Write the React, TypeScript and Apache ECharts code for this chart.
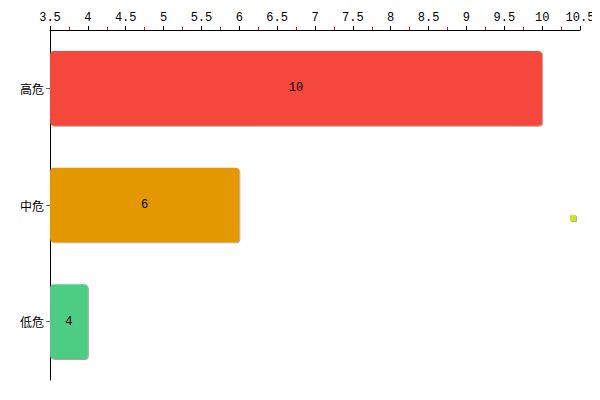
import React, { useEffect, useRef } from "react";
import * as echarts from "echarts";

const categories = ["高危", "中危", "低危"];
const values = [10, 6, 4];
const barColors = ["#F5473B", "#E39800", "#4ECD83"];
const axisMin = 3.5;
const axisMax = 10.5;
const axisInterval = 0.5;

export default function App() {
  const ref = useRef<HTMLDivElement>(null);
  useEffect(() => {
    if (!ref.current) return;
    const chart = echarts.init(ref.current, undefined, { renderer: "svg" });
    chart.setOption({
      animation: false,
      textStyle: { fontFamily: "'Liberation Mono', 'Noto Sans CJK SC', monospace" },
      grid: { left: 50, right: 20, top: 30, bottom: 20, containLabel: false },
      xAxis: {
        type: "value",
        position: "top",
        min: axisMin,
        max: axisMax,
        interval: axisInterval,
        splitLine: { show: false },
        axisLine: { show: true, lineStyle: { color: "#000", width: 1 } },
        axisTick: { show: true, length: 4, lineStyle: { color: "#000" } },
        minorTick: { show: true, splitNumber: 2, length: 3, lineStyle: { color: "#ff0000" } },
        axisLabel: { color: "#000", fontSize: 12, margin: 6, fontFamily: "'Liberation Mono', monospace" },
      },
      yAxis: {
        type: "category",
        data: categories,
        inverse: true,
        axisLine: { show: true, lineStyle: { color: "#000", width: 1 } },
        axisTick: { show: true, alignWithLabel: true, length: 4, lineStyle: { color: "#666" } },
        axisLabel: { color: "#000", fontSize: 12, margin: 6, fontFamily: "'Noto Sans CJK SC', sans-serif" },
        splitLine: { show: false },
      },
      series: [
        {
          type: "bar",
          barWidth: "64%",
          data: values.map((v, i) => ({
            value: v,
            itemStyle: {
              color: barColors[i],
              borderRadius: 4,
              shadowColor: "rgba(0,0,0,0.35)",
              shadowOffsetX: 1,
              shadowOffsetY: 1,
              shadowBlur: 0,
            },
          })),
          label: {
            show: true,
            position: "inside",
            color: "#000",
            fontSize: 12,
            fontFamily: "'Liberation Mono', monospace",
          },
        },
      ],
      graphic: [
        {
          type: "rect",
          shape: { x: 570, y: 215, width: 6, height: 6 },
          style: {
            fill: "#C8E61E",
            shadowColor: "rgba(0,0,0,0.3)",
            shadowOffsetX: 1,
            shadowOffsetY: 1,
            shadowBlur: 0,
          },
        },
      ],
    });
    return () => chart.dispose();
  }, []);
  return <div ref={ref} style={{ width: 600, height: 400, margin: -8 }} />;
}
